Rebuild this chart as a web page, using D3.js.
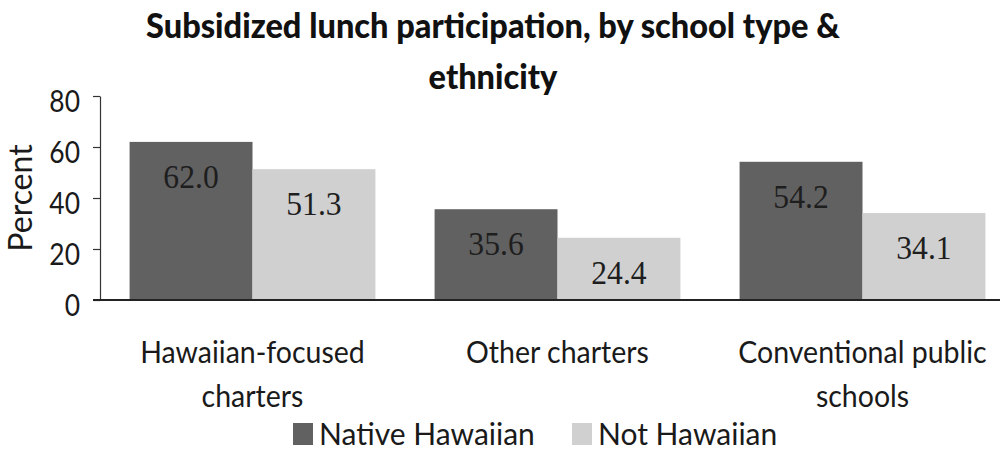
<!DOCTYPE html>
<html>
<head>
<meta charset="utf-8">
<script src="https://cdn.jsdelivr.net/npm/d3@7"></script>
<style>
  html, body { margin: 0; padding: 0; background: #ffffff; }
  svg { display: block; }
</style>
</head>
<body>
<svg id="chart" width="1000" height="451"></svg>
<script>
// Subsidized lunch participation (%), by school type and ethnicity
const categories = [
  ["Hawaiian-focused", "charters"],
  ["Other charters"],
  ["Conventional public", "schools"]
];
const seriesNames = ["Native Hawaiian", "Not Hawaiian"];
const nativeHawaiian = [62.0, 35.6, 54.2];
const notHawaiian = [51.3, 24.4, 34.1];
const yTicks = [0, 20, 40, 60, 80];
const titleLines = ["Subsidized lunch participation, by school type &", "ethnicity"];

const colors = ["#616161", "#d0d0d0"];
const sans = "Lato, 'Liberation Sans', sans-serif";
const serif = "'Liberation Serif', 'Times New Roman', serif";

const svg = d3.select("#chart");
const catKeys = categories.map(c => c.join(" "));
const values = [nativeHawaiian, notHawaiian];

const x0 = d3.scaleBand()
  .domain(catKeys)
  .range([100, 1015])
  .paddingInner(0.194)
  .paddingOuter(0.097);
const x1 = d3.scaleBand()
  .domain(seriesNames)
  .range([0, x0.bandwidth()]);
const y = d3.scaleLinear().domain([0, 80]).range([300, 96]);

// narrow a text run horizontally, keeping it as real text
function condense(sel, factor) {
  sel.each(function () {
    const w = this.getComputedTextLength();
    d3.select(this).attr("textLength", w * factor).attr("lengthAdjust", "spacingAndGlyphs");
  });
}

// Title
svg.append("g")
  .selectAll("text")
  .data(titleLines)
  .join("text")
  .attr("x", 493)
  .attr("y", (d, i) => 38 + i * 51)
  .attr("text-anchor", "middle")
  .attr("font-family", sans)
  .attr("font-weight", 900)
  .attr("font-size", 35)
  .attr("fill", "#111")
  .text(d => d)
  .call(condense, 0.93);

// Bars
const groups = svg.append("g")
  .selectAll("g")
  .data(catKeys)
  .join("g")
  .attr("transform", d => `translate(${x0(d)},0)`);

groups.selectAll("rect")
  .data((d, i) => seriesNames.map((s, j) => ({ s, v: values[j][i] })))
  .join("rect")
  .attr("x", d => x1(d.s))
  .attr("y", d => y(d.v))
  .attr("width", x1.bandwidth())
  .attr("height", d => y(0) - y(d.v))
  .attr("fill", (d, j) => colors[j]);

// Value labels, inside the top of each bar
groups.selectAll("text")
  .data((d, i) => seriesNames.map((s, j) => ({ s, v: values[j][i] })))
  .join("text")
  .attr("x", d => x1(d.s) + x1.bandwidth() / 2)
  .attr("y", d => y(d.v) + 46)
  .attr("text-anchor", "middle")
  .attr("font-family", serif)
  .attr("font-size", 34)
  .attr("fill", "#1e1e1e")
  .text(d => d.v.toFixed(1))
  .call(condense, 0.93);

// Y axis
const yAxis = svg.append("g")
  .attr("transform", "translate(100,0)")
  .call(d3.axisLeft(y).tickValues(yTicks).tickSize(7).tickPadding(13).tickSizeOuter(0));
yAxis.select(".domain").attr("stroke", "#333").attr("stroke-width", 1.2);
yAxis.selectAll(".tick line").attr("stroke", "#333").attr("stroke-width", 1.2);
yAxis.selectAll(".tick text")
  .attr("font-family", sans)
  .attr("font-size", 30)
  .attr("fill", "#1a1a1a")
  .attr("dy", "0.5em")
  .call(condense, 0.88);

// X baseline
svg.append("line")
  .attr("x1", 93).attr("x2", 1000)
  .attr("y1", y(0)).attr("y2", y(0))
  .attr("stroke", "#222").attr("stroke-width", 2);

// Y axis title
svg.append("text")
  .attr("transform", `translate(32,${(y(0) + y(80)) / 2}) rotate(-90)`)
  .attr("text-anchor", "middle")
  .attr("font-family", sans)
  .attr("font-size", 32)
  .attr("fill", "#1a1a1a")
  .text("Percent");

// Category labels, one text per line
const catLines = categories.flatMap((lines, i) =>
  lines.map((t, k) => ({ t, k, key: catKeys[i] })));
svg.append("g")
  .selectAll("text")
  .data(catLines)
  .join("text")
  .attr("x", d => x0(d.key) + x0.bandwidth() / 2)
  .attr("y", d => 363 + d.k * 44)
  .attr("text-anchor", "middle")
  .attr("font-family", sans)
  .attr("font-size", 30)
  .attr("fill", "#1a1a1a")
  .text(d => d.t)
  .call(condense, 0.95);

// Legend
const legendX = [293, 572];
const legend = svg.append("g")
  .selectAll("g")
  .data(seriesNames)
  .join("g")
  .attr("transform", (d, i) => `translate(${legendX[i]},0)`);
legend.append("rect")
  .attr("x", 0).attr("y", 423)
  .attr("width", 20).attr("height", 22)
  .attr("fill", (d, i) => colors[i]);
legend.append("text")
  .attr("x", 26).attr("y", 445)
  .attr("font-family", sans)
  .attr("font-size", 30)
  .attr("fill", "#1a1a1a")
  .text(d => d);
</script>
</body>
</html>
